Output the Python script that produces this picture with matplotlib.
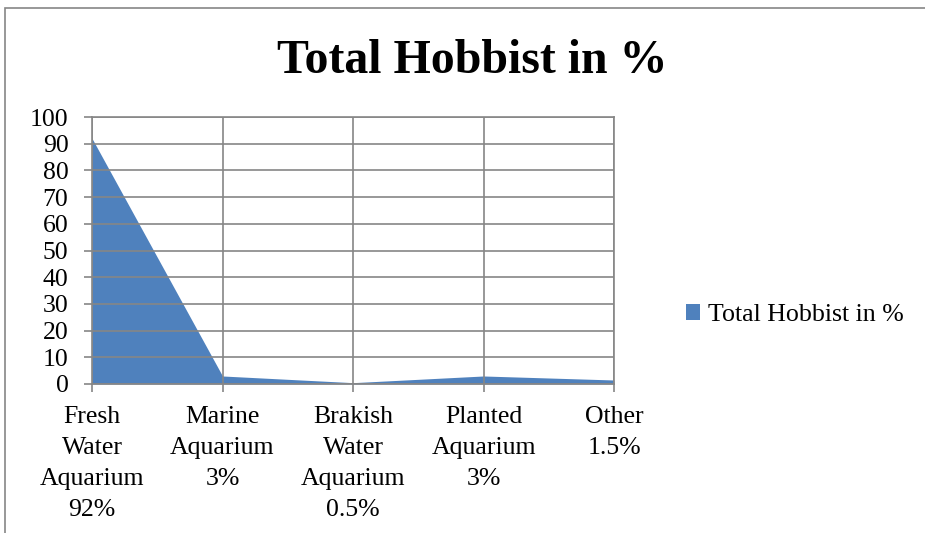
import numpy as np
import matplotlib.pyplot as plt
from matplotlib.patches import Rectangle

categories = ['Fresh\nWater\nAquarium\n92%', 'Marine\nAquarium\n3%', 'Brakish\nWater\nAquarium\n0.5%',
              'Planted\nAquarium\n3%', 'Other\n1.5%']
values = [92, 3, 0.5, 3, 1.5]
series_name = 'Total Hobbist in %'

plt.rcParams['font.family'] = ['Liberation Serif', 'DejaVu Serif']

W, H = 925, 533
fig = plt.figure(figsize=(W/100, H/100), dpi=100)

# outer chart frame (clipped by image edges on right/bottom)
fig.patches.append(Rectangle((5/W, -0.1), 2.0, (H-8)/H+0.1, transform=fig.transFigure,
                             fill=False, ec='#868686', lw=1.2))

ax = fig.add_axes([92/W, 1-384/H, (614-92)/W, (384-117)/H])
x = np.arange(len(values))
ax.fill_between(x, values, 0, color='#4F81BD', lw=0, label=series_name)

ax.set_xlim(0, len(values)-1)
ax.set_ylim(0, 100)
ax.set_yticks(range(0, 101, 10))
ax.set_xticks(x)
ax.set_xticklabels(categories, fontsize=18.5, linespacing=1.53, va='top')
ax.tick_params(axis='y', labelsize=18.5, length=6, color='#868686', width=1.2, pad=11)
ax.tick_params(axis='x', length=6, color='#868686', width=1.2, pad=10)
ax.grid(True, color='#868686', lw=1.2)
ax.set_axisbelow(False)
for s in ax.spines.values():
    s.set_color('#868686')
    s.set_linewidth(1.2)

fig.text(472/W, 1-61/H, 'Total Hobbist in %', ha='center', va='center',
         fontsize=34.5, fontweight='bold')

fig.legend(loc='center left', bbox_to_anchor=(663/W, 1-315/H), frameon=False,
           fontsize=18.6, handlelength=0.55, handleheight=0.55, handletextpad=0.3)

fig.savefig('out.png', dpi=100)
